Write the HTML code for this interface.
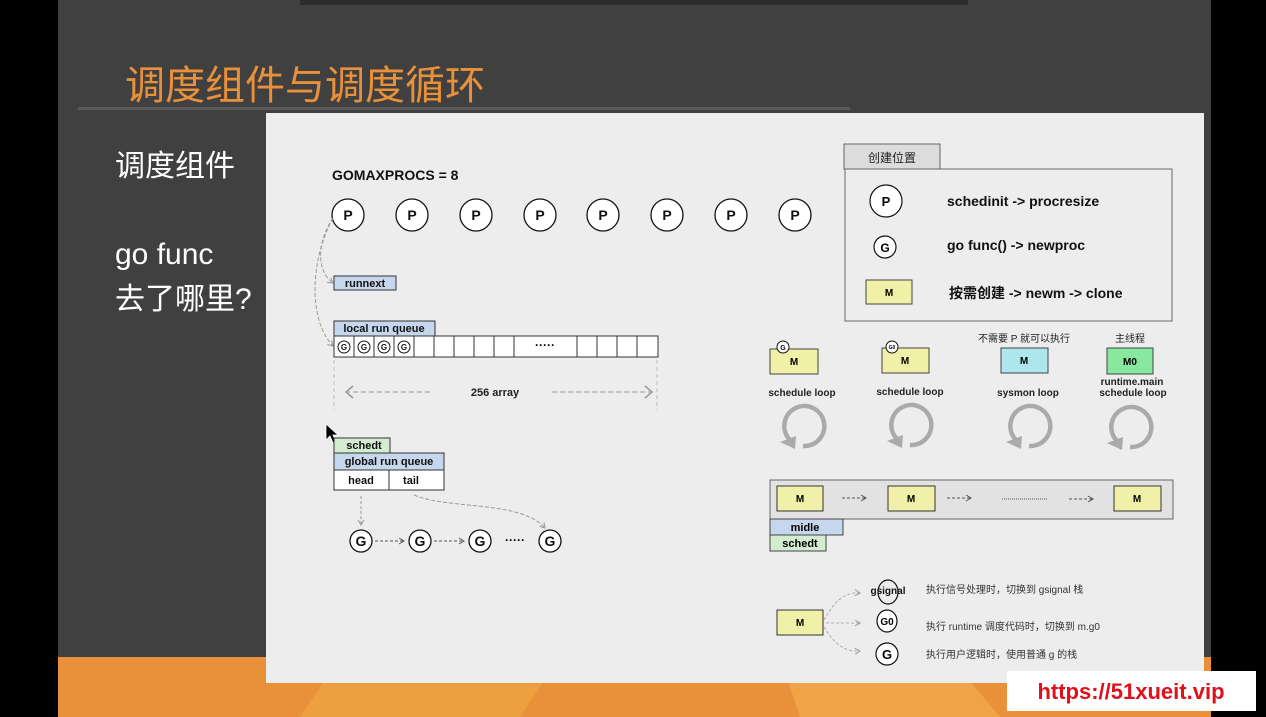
<!DOCTYPE html>
<html><head><meta charset="utf-8"><style>
html,body{margin:0;padding:0;background:#000;}
svg{display:block;}
text{font-family:"Liberation Sans","Noto Sans CJK SC",sans-serif;}
</style></head><body>
<svg width="1266" height="717" viewBox="0 0 1266 717" xmlns="http://www.w3.org/2000/svg">
<defs>
<marker id="ah" markerWidth="8" markerHeight="8" refX="6" refY="4" orient="auto"><path d="M1,1 L6,4 L1,7" fill="none" stroke="#999" stroke-width="1"/></marker>
<marker id="ah2" markerWidth="8" markerHeight="8" refX="6" refY="4" orient="auto"><path d="M1,1 L6,4 L1,7" fill="none" stroke="#555" stroke-width="1"/></marker>
</defs>
<rect x="0" y="0" width="1266" height="717" fill="#000"/>
<rect x="58" y="0" width="1153" height="717" fill="#404040"/>
<rect x="300" y="0" width="668" height="5" fill="#2c2c2c"/>
<rect x="58" y="657" width="1153" height="60" fill="#e8913a"/>
<path d="M300,717 L340,657 L560,657 L520,717Z" fill="#eda040"/>
<path d="M800,717 L780,657 L950,657 L1000,717Z" fill="#f0a445"/>
<text x="125" y="99" font-size="40" fill="#e8913a" font-family="Noto Sans CJK SC,sans-serif">调度组件与调度循环</text>
<rect x="78" y="107" width="772" height="3" fill="#5a5a5a"/>
<text x="115" y="176" font-size="30" fill="#fff">调度组件</text>
<text x="115" y="264" font-size="30" fill="#fff">go func</text>
<text x="115" y="309" font-size="30" fill="#fff">去了哪里?</text>
<rect x="266" y="113" width="938" height="570" fill="#ededed"/>

<text x="332" y="180" font-size="14" font-weight="bold" fill="#111">GOMAXPROCS = 8</text>
<g fill="#fff" stroke="#111" stroke-width="1.3">
<circle cx="348" cy="215" r="16"/><circle cx="412" cy="215" r="16"/><circle cx="476" cy="215" r="16"/><circle cx="540" cy="215" r="16"/><circle cx="603" cy="215" r="16"/><circle cx="667" cy="215" r="16"/><circle cx="731" cy="215" r="16"/><circle cx="795" cy="215" r="16"/>
</g>
<g font-size="14" font-weight="bold" text-anchor="middle" fill="#111">
<text x="348" y="220">P</text><text x="412" y="220">P</text><text x="476" y="220">P</text><text x="540" y="220">P</text><text x="603" y="220">P</text><text x="667" y="220">P</text><text x="731" y="220">P</text><text x="795" y="220">P</text>
</g>
<path d="M333,218 C318,240 315,270 333,283" fill="none" stroke="#999" stroke-dasharray="4,2" marker-end="url(#ah)"/>
<path d="M333,218 C310,260 308,320 333,346" fill="none" stroke="#999" stroke-dasharray="4,2" marker-end="url(#ah)"/>

<rect x="334" y="276" width="62" height="14" fill="#c6d6ec" stroke="#333"/>
<text x="365" y="287" font-size="11" font-weight="bold" text-anchor="middle" fill="#111">runnext</text>
<rect x="334" y="321" width="101" height="15" fill="#c6d6ec" stroke="#333"/>
<text x="384" y="332" font-size="11" font-weight="bold" text-anchor="middle" fill="#111">local run queue</text>
<rect x="334" y="336" width="324" height="21" fill="#fff" stroke="#333"/>
<g stroke="#333"><line x1="354" y1="336" x2="354" y2="357"/><line x1="374" y1="336" x2="374" y2="357"/><line x1="394" y1="336" x2="394" y2="357"/><line x1="414" y1="336" x2="414" y2="357"/><line x1="434" y1="336" x2="434" y2="357"/><line x1="454" y1="336" x2="454" y2="357"/><line x1="474" y1="336" x2="474" y2="357"/><line x1="494" y1="336" x2="494" y2="357"/><line x1="514" y1="336" x2="514" y2="357"/><line x1="577" y1="336" x2="577" y2="357"/><line x1="597" y1="336" x2="597" y2="357"/><line x1="617" y1="336" x2="617" y2="357"/><line x1="637" y1="336" x2="637" y2="357"/></g>
<g fill="none" stroke="#111"><circle cx="344" cy="347" r="6"/><circle cx="364" cy="347" r="6"/><circle cx="384" cy="347" r="6"/><circle cx="404" cy="347" r="6"/></g>
<g font-size="8" font-weight="bold" text-anchor="middle" fill="#111"><text x="344" y="350">G</text><text x="364" y="350">G</text><text x="384" y="350">G</text><text x="404" y="350">G</text></g>
<text x="545" y="349" font-size="12" font-weight="bold" text-anchor="middle">·····</text>
<g stroke="#bbb" stroke-dasharray="4,3"><line x1="334" y1="360" x2="334" y2="410"/><line x1="657" y1="360" x2="657" y2="410"/></g>
<g stroke="#999" stroke-dasharray="5,3" fill="none"><line x1="430" y1="392" x2="348" y2="392"/><line x1="552" y1="392" x2="650" y2="392"/></g>
<path d="M353,386 L346,392 L353,398" fill="none" stroke="#999" stroke-width="1.5"/>
<path d="M645,386 L652,392 L645,398" fill="none" stroke="#999" stroke-width="1.5"/>
<text x="495" y="396" font-size="11" font-weight="bold" text-anchor="middle" fill="#222">256 array</text>

<path d="M326,424 L326,440 L330,436 L333,443 L336,442 L333,435 L338,435Z" fill="#000" stroke="#fff" stroke-width="0.8"/>
<rect x="334" y="438" width="56" height="15" fill="#d4ecd0" stroke="#333"/>
<text x="364" y="449" font-size="11" font-weight="bold" text-anchor="middle" fill="#111">schedt</text>
<rect x="334" y="453" width="110" height="17" fill="#c6d6ec" stroke="#333"/>
<text x="389" y="465" font-size="11" font-weight="bold" text-anchor="middle" fill="#111">global run queue</text>
<rect x="334" y="470" width="110" height="20" fill="#fff" stroke="#333"/>
<line x1="389" y1="470" x2="389" y2="490" stroke="#333"/>
<text x="361" y="484" font-size="11" font-weight="bold" text-anchor="middle" fill="#111">head</text>
<text x="411" y="484" font-size="11" font-weight="bold" text-anchor="middle" fill="#111">tail</text>
<line x1="361" y1="496" x2="361" y2="525" stroke="#999" stroke-dasharray="3,2" marker-end="url(#ah)"/>
<path d="M414,495 C450,510 520,500 545,528" fill="none" stroke="#999" stroke-dasharray="4,2" marker-end="url(#ah)"/>
<g fill="#fff" stroke="#111" stroke-width="1.3"><circle cx="361" cy="541" r="11"/><circle cx="420" cy="541" r="11"/><circle cx="480" cy="541" r="11"/><circle cx="550" cy="541" r="11"/></g>
<g font-size="14" font-weight="bold" text-anchor="middle" fill="#111"><text x="361" y="546">G</text><text x="420" y="546">G</text><text x="480" y="546">G</text><text x="550" y="546">G</text></g>
<g stroke="#555" stroke-dasharray="3,2"><line x1="375" y1="541" x2="404" y2="541" marker-end="url(#ah2)"/><line x1="434" y1="541" x2="464" y2="541" marker-end="url(#ah2)"/></g>
<text x="515" y="544" font-size="12" font-weight="bold" text-anchor="middle">·····</text>

<rect x="844" y="144" width="96" height="25" fill="#dcdcdc" stroke="#666"/>
<text x="892" y="162" font-size="12" text-anchor="middle" fill="#222">创建位置</text>
<rect x="845" y="169" width="327" height="152" fill="#ededed" stroke="#666"/>
<circle cx="886" cy="201" r="16" fill="#fff" stroke="#111" stroke-width="1.2"/>
<text x="886" y="206" font-size="13" font-weight="bold" text-anchor="middle">P</text>
<text x="947" y="206" font-size="14" font-weight="bold" fill="#111">schedinit -&gt; procresize</text>
<circle cx="885" cy="247" r="11" fill="#fff" stroke="#111" stroke-width="1.2"/>
<text x="885" y="252" font-size="12" font-weight="bold" text-anchor="middle">G</text>
<text x="947" y="250" font-size="14" font-weight="bold" fill="#111">go func() -&gt; newproc</text>
<rect x="866" y="280" width="46" height="24" fill="#f0f0a8" stroke="#444"/>
<text x="889" y="296" font-size="10" font-weight="bold" text-anchor="middle">M</text>
<text x="949" y="298" font-size="14" font-weight="bold" fill="#111">按需创建 -&gt;  newm -&gt;  clone</text>

<text x="1024" y="342" font-size="10" text-anchor="middle" fill="#222">不需要 P 就可以执行</text>
<text x="1130" y="342" font-size="10" text-anchor="middle" fill="#222">主线程</text>
<rect x="770" y="349" width="48" height="25" fill="#f0f0a8" stroke="#444"/>
<circle cx="783" cy="347" r="6" fill="#fff" stroke="#111"/><text x="783" y="350" font-size="7" font-weight="bold" text-anchor="middle">G</text>
<text x="794" y="365" font-size="10" font-weight="bold" text-anchor="middle">M</text>
<rect x="882" y="348" width="47" height="25" fill="#f0f0a8" stroke="#444"/>
<circle cx="892" cy="347" r="6" fill="#fff" stroke="#111"/><text x="892" y="349" font-size="5" font-weight="bold" text-anchor="middle">G0</text>
<text x="905" y="364" font-size="10" font-weight="bold" text-anchor="middle">M</text>
<rect x="1001" y="348" width="47" height="25" fill="#aee6ee" stroke="#444"/>
<text x="1024" y="364" font-size="10" font-weight="bold" text-anchor="middle">M</text>
<rect x="1107" y="348" width="46" height="26" fill="#88e8a0" stroke="#444"/>
<text x="1130" y="365" font-size="10" font-weight="bold" text-anchor="middle">M0</text>
<g font-size="10" font-weight="bold" text-anchor="middle" fill="#222">
<text x="802" y="396">schedule loop</text><text x="910" y="395">schedule loop</text><text x="1028" y="396">sysmon loop</text><text x="1132" y="385">runtime.main</text><text x="1133" y="396">schedule loop</text>
</g>
<g fill="none" stroke="#aaa" stroke-width="4.5">
<path d="M790,440 A20,20 0 1 1 803,446"/><path d="M897,439 A20,20 0 1 1 910,445"/><path d="M1016,440 A20,20 0 1 1 1029,446"/><path d="M1117,441 A20,20 0 1 1 1130,447"/>
</g>
<g fill="#aaa"><path d="M780,442 L796,436 L795,449Z"/><path d="M887,441 L903,435 L902,448Z"/><path d="M1006,442 L1022,436 L1021,449Z"/><path d="M1107,443 L1123,437 L1122,450Z"/></g>

<rect x="770" y="480" width="403" height="39" fill="#e2e2e2" stroke="#666"/>
<rect x="777" y="486" width="46" height="25" fill="#f0f0a8" stroke="#333"/>
<rect x="888" y="486" width="47" height="25" fill="#f0f0a8" stroke="#333"/>
<rect x="1114" y="486" width="47" height="25" fill="#f0f0a8" stroke="#333"/>
<g font-size="10" font-weight="bold" text-anchor="middle"><text x="800" y="502">M</text><text x="911" y="502">M</text><text x="1137" y="502">M</text></g>
<g stroke="#555" stroke-dasharray="3,2"><line x1="842" y1="498" x2="866" y2="498" marker-end="url(#ah2)"/><line x1="947" y1="498" x2="971" y2="498" marker-end="url(#ah2)"/><line x1="1069" y1="499" x2="1093" y2="499" marker-end="url(#ah2)"/></g>
<line x1="1002" y1="499" x2="1048" y2="499" stroke="#555" stroke-dasharray="1,1"/>
<rect x="770" y="519" width="73" height="16" fill="#c6d6ec" stroke="#444"/>
<text x="805" y="531" font-size="11" font-weight="bold" text-anchor="middle">midle</text>
<rect x="770" y="535" width="56" height="16" fill="#d4ecd0" stroke="#444"/>
<text x="800" y="547" font-size="11" font-weight="bold" text-anchor="middle">schedt</text>

<rect x="777" y="610" width="46" height="25" fill="#f0f0a8" stroke="#333"/>
<text x="800" y="626" font-size="10" font-weight="bold" text-anchor="middle">M</text>
<g stroke="#aaa" stroke-dasharray="3,2" fill="none">
<path d="M824,620 C835,600 845,592 860,593" marker-end="url(#ah)"/>
<line x1="826" y1="623" x2="860" y2="623" marker-end="url(#ah)"/>
<path d="M824,627 C835,645 845,652 860,651" marker-end="url(#ah)"/>
</g>
<g fill="#fff" stroke="#111" stroke-width="1.2"><ellipse cx="888" cy="592" rx="10" ry="12" fill="none"/><ellipse cx="887" cy="621" rx="10" ry="11"/><circle cx="887" cy="654" r="11"/></g>
<text x="888" y="594" font-size="10" font-weight="bold" text-anchor="middle" fill="#111">gsignal</text>
<text x="887" y="625" font-size="10" font-weight="bold" text-anchor="middle">G0</text>
<text x="887" y="659" font-size="13" font-weight="bold" text-anchor="middle">G</text>
<g font-size="10" fill="#333"><text x="926" y="593">执行信号处理时，切换到 gsignal 栈</text><text x="926" y="630">执行 runtime 调度代码时，切换到 m.g0</text><text x="926" y="658">执行用户逻辑时，使用普通 g 的栈</text></g>

<rect x="1007" y="671" width="249" height="40" fill="#fff"/>
<text x="1131" y="699" font-size="22" font-weight="bold" text-anchor="middle" fill="#e0101a">https://51xueit.vip</text>
</svg>
</body></html>
